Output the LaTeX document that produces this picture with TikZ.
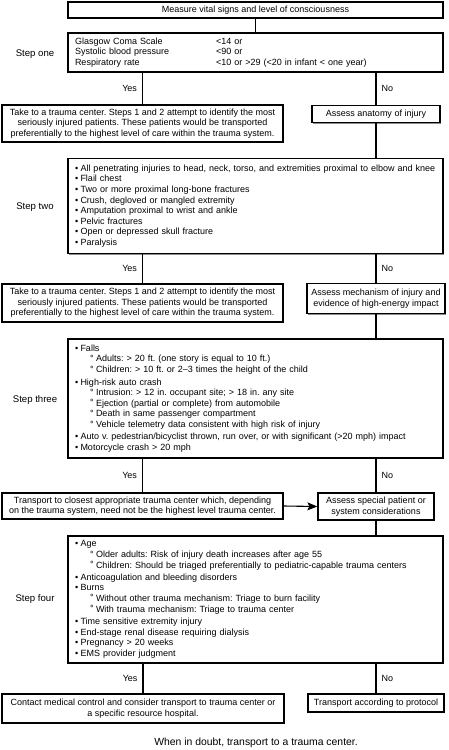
\documentclass[tikz,border=0pt]{standalone}
\usepackage{fontspec}
\setmainfont{Liberation Sans}
\usetikzlibrary{shadows,arrows.meta}
\frenchspacing
\newcommand{\fs}{\fontsize{9}{10.6}\selectfont}
\newcommand{\fb}{\fontsize{9.6}{11}\selectfont}
\newcommand{\ff}{\fontsize{10.4}{12}\selectfont}
\newcommand{\bu}{\makebox[5.5pt][l]{•}}
\newcommand{\sbu}{\hspace*{15pt}\makebox[6pt][l]{\raisebox{0.5pt}{°}}}
\tikzset{
  x=1pt, y=-1pt,
  box/.style={draw, line width=1.3pt, inner sep=0pt, font=\fs, fill=white,
    drop shadow={shadow xshift=1pt, shadow yshift=-1pt, fill=black!45, opacity=1}},
  cbox/.style={box, align=center},
  lbox/.style={box, align=left},
  conn/.style={line width=1.1pt},
  lbl/.style={font=\fb, inner sep=0pt},
  yn/.style={font=\fs, inner sep=0pt},
}
\begin{document}
\begin{tikzpicture}
\useasboundingbox (0,0) rectangle (449,750);

% top
\node[cbox, minimum width=375, minimum height=16] (top) at (255.5,10) {Measure vital signs and level of consciousness};

% step one
\node[lbox, minimum width=375, minimum height=39, text width=361] (s1) at (255.5,52.5) {%
\begin{tabular}{@{}p{141pt}@{}l@{}}
Glasgow Coma Scale & <14 or\\
Systolic blood pressure & <90 or\\
Respiratory rate & <10 or >29 (<20 in infant < one year)
\end{tabular}};
\node[lbl] (l1) at (35,54) {Step one};

\node[cbox, minimum width=281, minimum height=37] (y1) at (142.5,123.5) {Take to a trauma center. Steps 1 and 2 attempt to identify the most\\ seriously injured patients. These patients would be transported\\ preferentially to the highest level of care within the trauma system.};
\node[cbox, minimum width=128, minimum height=17] (n1) at (376,114) {Assess anatomy of injury};

% step two
\node[lbox, minimum width=375, minimum height=95, text width=361] (s2) at (255.5,206) {%
\bu All penetrating injuries to head, neck, torso, and extremities proximal to elbow and knee\\
\bu Flail chest\\
\bu Two or more proximal long-bone fractures\\
\bu Crush, degloved or mangled extremity\\
\bu Amputation proximal to wrist and ankle\\
\bu Pelvic fractures\\
\bu Open or depressed skull fracture\\
\bu Paralysis};
\node[lbl] (l2) at (35,207) {Step two};

\node[cbox, minimum width=281, minimum height=38] (y2) at (142.5,303) {Take to a trauma center. Steps 1 and 2 attempt to identify the most\\ seriously injured patients. These patients would be transported\\ preferentially to the highest level of care within the trauma system.};
\node[cbox, minimum width=138, minimum height=30] (n2) at (376,298.5) {Assess mechanism of injury and\\ evidence of high-energy impact};

% step three
\node[lbox, minimum width=375, minimum height=119, text width=361] (s3) at (255.5,398.5) {%
\bu Falls\\
\sbu Adults: > 20 ft. (one story is equal to 10 ft.)\\
\sbu Children: > 10 ft. or 2--3 times the height of the child\\[2pt]
\bu High-risk auto crash\\
\sbu Intrusion: > 12 in. occupant site; > 18 in. any site\\
\sbu Ejection (partial or complete) from automobile\\
\sbu Death in same passenger compartment\\
\sbu Vehicle telemetry data consistent with high risk of injury\\[1.5pt]
\bu Auto v. pedestrian/bicyclist thrown, run over, or with significant (>20 mph) impact\\
\bu Motorcycle crash > 20 mph};
\node[lbl] (l3) at (35,400) {Step three};

\node[cbox, minimum width=281, minimum height=26] (y3) at (142.5,506) {Transport to closest appropriate trauma center which, depending\\ on the trauma system, need not be the highest level trauma center.};
\node[cbox, minimum width=116, minimum height=27] (n3) at (376,506.5) {Assess special patient or\\ system considerations};

% step four
\node[lbox, minimum width=375, minimum height=127, text width=361] (s4) at (255.5,599.5) {%
\bu Age\\
\sbu Older adults: Risk of injury death increases after age 55\\
\sbu Children: Should be triaged preferentially to pediatric-capable trauma centers\\[1.5pt]
\bu Anticoagulation and bleeding disorders\\
\bu Burns\\
\sbu Without other trauma mechanism: Triage to burn facility\\
\sbu With trauma mechanism: Triage to trauma center\\[2pt]
\bu Time sensitive extremity injury\\
\bu End-stage renal disease requiring dialysis\\
\bu Pregnancy > 20 weeks\\
\bu EMS provider judgment};
\node[lbl] (l4) at (35,599) {Step four};

\node[cbox, minimum width=282, minimum height=29] (y4) at (143,708.5) {Contact medical control and consider transport to trauma center or\\ a specific resource hospital.};
\node[cbox, minimum width=136, minimum height=18] (n4) at (376,703) {Transport according to protocol};

\node[inner sep=0pt, font=\ff] (foot) at (256,743) {When in doubt, transport to a trauma center.};

% connectors
\draw[conn] (top.south) -- (s1.north);
\draw[conn] (s1.south -| y1.north) -- (y1.north) node[yn, midway, left=5pt] (ty1) {Yes};
\draw[conn] (s1.south -| n1.north) -- (n1.north) node[yn, midway, right=5pt] (tn1) {No};
\draw[conn] (n1.south) -- (s2.north -| n1.south);
\draw[conn] (s2.south -| y2.north) -- (y2.north) node[yn, midway, left=5pt] (ty2) {Yes};
\draw[conn] (s2.south -| n2.north) -- (n2.north) node[yn, midway, right=5pt] (tn2) {No};
\draw[conn] (n2.south) -- (s3.north -| n2.south);
\draw[conn] (s3.south -| y3.north) -- (y3.north) node[yn, midway, left=5pt] (ty3) {Yes};
\draw[conn] (s3.south -| n3.north) -- (n3.north) node[yn, midway, right=5pt] (tn3) {No};
\draw[conn, -{Stealth[length=10pt,width=8pt,inset=2pt]}] (y3.east) -- (n3.west);
\draw[conn] (n3.south) -- (s4.north -| n3.south);
\draw[conn] (s4.south -| y4.north) -- (y4.north) node[yn, midway, left=5pt] (ty4) {Yes};
\draw[conn] (s4.south -| n4.north) -- (n4.north) node[yn, midway, right=5pt] (tn4) {No};
\end{tikzpicture}
\end{document}
